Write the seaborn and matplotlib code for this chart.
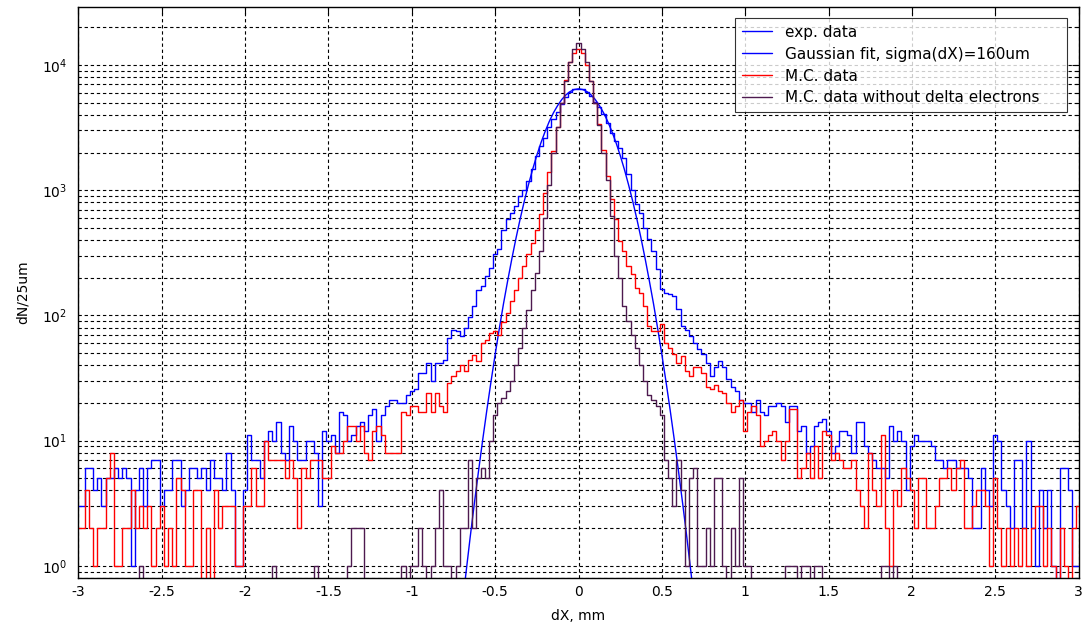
import numpy as np
import matplotlib
matplotlib.use('Agg')
import matplotlib.pyplot as plt
import seaborn as sns
from matplotlib.ticker import LogLocator, NullFormatter

# histogram bins: 25 um wide, centres from -3 to 3 mm
dx_centers = np.round(np.arange(-3.0, 3.0001, 0.025), 3)

# exp. data (counts per bin)
exp_counts = [
    3, 3, 6, 6, 4, 5, 3, 5, 5, 6,
    5, 6, 5, 1, 4, 6, 3, 6, 7, 7,
    3, 4, 4, 7, 7, 3, 4, 6, 6, 5,
    6, 4, 7, 5, 5, 4, 8, 4, 1, 1,
    4, 11, 7, 7, 5, 10, 12, 10, 14, 8,
    7, 13, 10, 7, 7, 10, 10, 8, 3, 12,
    10, 11, 8, 17, 16, 10, 11, 13, 14, 12,
    16, 18, 10, 16, 19, 21, 21, 20, 20, 23,
    25, 26, 35, 35, 42, 30, 42, 42, 44, 66,
    77, 75, 68, 79, 98, 118, 161, 171, 206, 240,
    307, 337, 485, 590, 660, 750, 900, 1000, 1190, 1470,
    1880, 2260, 2590, 3170, 3700, 4180, 4870, 5510, 6040, 6420,
    6470,
    6400, 6120, 5610, 5030, 4580, 4050, 3470, 2890, 2480, 2190,
    1820, 1350, 1000, 770, 660, 500, 405, 327, 234, 162,
    152, 147, 142, 112, 82, 77, 68, 60, 54, 49,
    42, 33, 39, 43, 39, 31, 27, 25, 21, 20,
    20, 17, 21, 17, 16, 19, 19, 20, 19, 14,
    19, 19, 12, 13, 8, 9, 13, 14, 15, 12,
    8, 9, 12, 12, 11, 8, 14, 14, 9, 8,
    7, 6, 6, 5, 13, 10, 12, 10, 4, 9,
    11, 10, 10, 10, 9, 7, 7, 6, 7, 7,
    6, 6, 6, 5, 2, 2, 6, 4, 3, 11,
    10, 4, 3, 2, 7, 7, 2, 10, 2, 1,
    4, 2, 4, 1, 0, 6, 6, 4, 1, 1,
]

# M.C. data
mc_counts = [
    2, 2, 4, 2, 1, 2, 2, 5, 8, 1,
    1, 2, 2, 4, 2, 3, 2, 3, 1, 2,
    3, 1, 2, 1, 5, 4, 1, 1, 4, 4,
    0, 2, 0, 4, 2, 3, 3, 3, 1, 1,
    3, 3, 6, 3, 3, 10, 7, 7, 7, 7,
    5, 7, 5, 2, 6, 5, 7, 7, 7, 5,
    5, 9, 8, 8, 10, 13, 13, 10, 13, 8,
    7, 12, 13, 11, 8, 8, 8, 8, 17, 16,
    19, 19, 17, 17, 24, 17, 24, 19, 17, 29,
    33, 36, 40, 36, 44, 48, 43, 60, 64, 72,
    75, 70, 88, 105, 130, 160, 200, 250, 310, 380,
    480, 650, 950, 1400, 2050, 3200, 5000, 7600, 10500, 12500,
    13500,
    12500, 10000, 7500, 5000, 3400, 2100, 1300, 850, 586, 394,
    327, 248, 213, 166, 152, 119, 82, 75, 75, 85,
    60, 55, 49, 42, 47, 36, 33, 39, 39, 35,
    27, 26, 28, 25, 24, 20, 17, 19, 21, 12,
    17, 19, 16, 9, 10, 11, 12, 10, 7, 10,
    18, 18, 5, 6, 8, 5, 9, 5, 12, 11,
    7, 8, 7, 6, 6, 7, 4, 3, 2, 8,
    4, 3, 11, 2, 1, 4, 3, 6, 5, 4,
    2, 5, 5, 2, 2, 3, 5, 5, 6, 4,
    6, 7, 2, 2, 3, 4, 4, 3, 1, 5,
    2, 1, 2, 1, 2, 1, 2, 1, 2, 3,
    3, 1, 2, 1, 0, 2, 1, 0, 2, 3,
]

# M.C. data without delta electrons
mc_nodelta_counts = [
    0, 0, 0, 0, 0, 0, 0, 0, 0, 0,
    0, 0, 0, 0, 0, 1, 0, 0, 0, 0,
    0, 0, 0, 0, 0, 0, 0, 0, 0, 0,
    0, 0, 0, 0, 0, 0, 0, 0, 0, 0,
    0, 0, 0, 0, 0, 0, 0, 1, 0, 0,
    0, 0, 0, 0, 0, 0, 0, 1, 0, 0,
    0, 0, 0, 0, 0, 1, 2, 2, 2, 0,
    0, 0, 0, 0, 0, 0, 0, 0, 1, 0,
    1, 1, 2, 1, 0, 1, 2, 4, 1, 1,
    0, 1, 2, 2, 7, 2, 5, 6, 5, 10,
    16, 20, 22, 25, 30, 40, 55, 80, 110, 160,
    220, 330, 600, 1100, 2000, 3200, 5000, 7500, 10500, 13500,
    15000,
    13500, 10500, 7500, 5000, 3300, 2000, 1200, 620, 300, 200,
    120, 90, 70, 55, 40, 30, 23, 21, 19, 16,
    7, 5, 3, 7, 4, 1, 5, 6, 1, 1,
    2, 1, 5, 5, 1, 0, 2, 1, 5, 1,
    1, 0, 0, 0, 0, 0, 0, 0, 0, 1,
    1, 1, 0, 1, 1, 0, 1, 1, 0, 0,
    0, 0, 0, 0, 0, 0, 0, 0, 0, 0,
    0, 0, 1, 1, 0, 1, 0, 0, 0, 0,
    0, 0, 0, 0, 0, 0, 0, 0, 0, 0,
    0, 0, 0, 0, 0, 0, 0, 0, 0, 0,
    0, 0, 0, 0, 0, 0, 0, 0, 0, 0,
    0, 0, 0, 0, 0, 0, 0, 0, 0, 0,
]

# Gaussian fit curve, sigma(dX)=160um, read at 25 um steps
gauss_x = np.round(np.arange(-0.7, 0.7001, 0.025), 3)
gauss_half = [6450, 6370, 6140, 5780, 5310, 4750, 4160, 3550, 2950, 2400,
              1900, 1470, 1110, 820, 590, 414, 283, 189, 124, 78.7,
              48.8, 29.6, 17.5, 10.1, 5.7, 3.14, 1.69, 0.88, 0.45]
gauss_y = gauss_half[:0:-1] + gauss_half

x_ticks = [-3, -2.5, -2, -1.5, -1, -0.5, 0, 0.5, 1, 1.5, 2, 2.5, 3]

sns.set_style('white')
plt.rcParams['font.family'] = ['DejaVu Sans']
plt.rcParams['mathtext.default'] = 'regular'
plt.rcParams['axes.unicode_minus'] = False
plt.rcParams['text.color'] = 'k'
plt.rcParams['axes.labelcolor'] = 'k'

fig = plt.figure(figsize=(10.87, 6.35), dpi=100)
ax = fig.add_axes([0.0722, 0.0898, 0.92, 0.899])

sns.lineplot(x=dx_centers, y=exp_counts, drawstyle='steps-mid', estimator=None,
             color='#0000ff', lw=1.0, label='exp. data', ax=ax)
sns.lineplot(x=gauss_x, y=gauss_y, estimator=None,
             color='#0000ff', lw=1.0, label='Gaussian fit, sigma(dX)=160um', ax=ax)
sns.lineplot(x=dx_centers, y=mc_counts, drawstyle='steps-mid', estimator=None,
             color='#ff0000', lw=1.0, label='M.C. data', ax=ax)
sns.lineplot(x=dx_centers, y=mc_nodelta_counts, drawstyle='steps-mid', estimator=None,
             color='#4d1a4f', lw=1.0, label='M.C. data without delta electrons', ax=ax)

ax.set_yscale('log')
ax.set_xlim(-3, 3)
ax.set_ylim(0.8, 29000)

ax.set_xticks(x_ticks, [f'{v:g}' for v in x_ticks])
ax.yaxis.set_major_locator(LogLocator(base=10, numticks=10))
ax.yaxis.set_minor_locator(LogLocator(base=10, subs=np.arange(2, 10), numticks=20))
ax.yaxis.set_minor_formatter(NullFormatter())

grid_ls = (0, (3, 2.5))
ax.grid(True, which='major', axis='both', color='k', ls=grid_ls, lw=0.8)
ax.grid(True, which='minor', axis='y', color='k', ls=grid_ls, lw=0.8)

ax.tick_params(which='both', direction='in', top=True, right=True, labelsize=10,
               colors='k', labelcolor='k')
ax.tick_params(which='major', length=5, width=0.8)
ax.tick_params(which='minor', length=3, width=0.8)
ax.tick_params(axis='y', which='major', pad=8)
ax.tick_params(axis='x', which='major', pad=5)
for s in ax.spines.values():
    s.set_color('k')
    s.set_linewidth(1.0)

ax.set_xlabel('dX, mm', fontsize=10, labelpad=7, color='k')
ax.set_ylabel('dN/25um', fontsize=10, labelpad=9, color='k')

leg = ax.legend(loc='upper left', bbox_to_anchor=(0.6565, 0.981, 0.332, 0.0),
                mode='expand', borderaxespad=0,
                fontsize=11, frameon=True, fancybox=False, edgecolor='k',
                handlelength=2.0, handletextpad=0.85, labelspacing=0.45,
                borderpad=0.45, labelcolor='k')
leg.get_frame().set_linewidth(0.8)

fig.savefig('out.png', dpi=100, facecolor='white')
